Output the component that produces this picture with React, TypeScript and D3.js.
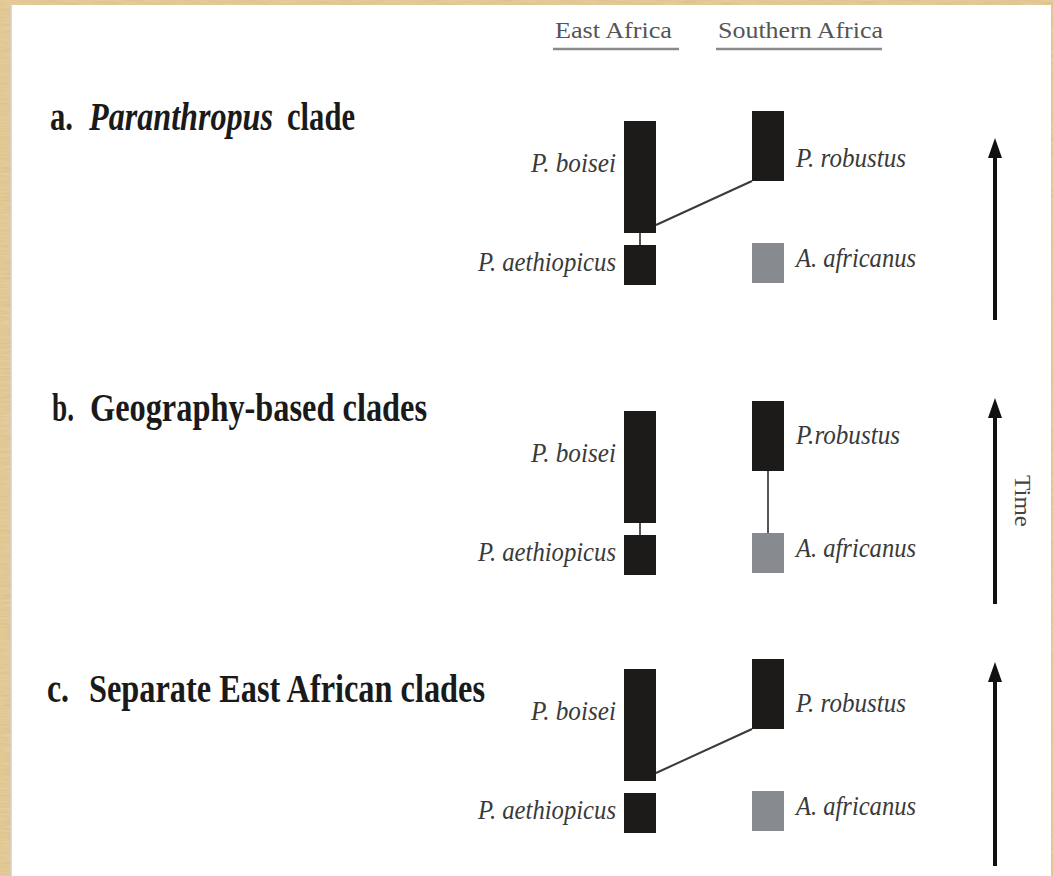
import React from 'react';
import * as d3 from 'd3';

// species and their time ranges (Ma)
const species = ['P. boisei', 'P. aethiopicus', 'P. robustus', 'A. africanus'];
const speciesRegion = ['East Africa', 'East Africa', 'Southern Africa', 'Southern Africa'];
const lastAppearance = [1.2, 2.44, 1.1, 2.42];
const firstAppearance = [2.32, 2.84, 1.8, 2.82];
const paranthropus = [true, true, true, false];
const regions = ['East Africa', 'Southern Africa'];

// branching point of P. robustus off P. boisei
const branchTime = 2.24;

const panelLetters = ['a.', 'b.', 'c.'];
const panelNames = ['Paranthropus', 'Geography-based clades', 'Separate East African clades'];
const panelLinks = [
  [['P. aethiopicus', 'P. boisei'], ['P. boisei', 'P. robustus']],
  [['P. aethiopicus', 'P. boisei'], ['A. africanus', 'P. robustus']],
  [['P. boisei', 'P. robustus']],
];
const robustusLabels = ['P. robustus', 'P.robustus', 'P. robustus'];

// layout
const W = 1053;
const H = 876;
const panelTop = [101, 391, 649];
const titleBaseline = [130, 421, 702];
const arrowTop = [138, 398, 662];
const arrowBottom = [320, 604, 866];
const labelDy = [-5, 6, 16, 4];
const robustusDy = [21, 8, 18];
const labelWidth = [85, 138, 110, 120];
const boxW = 32;
const serif = '"Liberation Serif", "Times New Roman", serif';

const x = d3.scaleOrdinal<string, number>().domain(regions).range([640, 768]);

// text drawn at its natural width, stretched vertically like the condensed print
const Tall = ({ x, y, sy, len, children, ...rest }: any) => (
  <text transform={`translate(${x},${y}) scale(1,${sy})`} textLength={len} lengthAdjust="spacingAndGlyphs" {...rest}>
    {children}
  </text>
);

const Title = ({ i }: { i: number }) => {
  const y = titleBaseline[i];
  const common = { fontFamily: serif, fontSize: 32, fontWeight: 'bold', fill: '#1a1a1a', sy: 1.25 };
  if (i === 0) {
    return (
      <g>
        <Tall x={50} y={y} len={23} {...common}>{panelLetters[0]}</Tall>
        <Tall x={89} y={y} len={184} fontStyle="italic" {...common}>{panelNames[0]}</Tall>
        <Tall x={287} y={y} len={68} {...common}>clade</Tall>
      </g>
    );
  }
  const starts = [0, 52, 47];
  const textStarts = [0, 90, 89];
  const ends = [0, 427, 485];
  return (
    <g>
      <Tall x={starts[i]} y={y} len={22} {...common}>{panelLetters[i]}</Tall>
      <Tall x={textStarts[i]} y={y} len={ends[i] - textStarts[i]} {...common}>{panelNames[i]}</Tall>
    </g>
  );
};

const Panel = ({ i }: { i: number }) => {
  const y = d3.scaleLinear().domain([1.0, 3.0]).range([panelTop[i], panelTop[i] + 200]);
  const idx = (s: string) => species.indexOf(s);

  return (
    <g>
      <Title i={i} />
      {panelLinks[i].map(([src, tgt], k) => {
        const a = idx(src);
        const b = idx(tgt);
        if (speciesRegion[a] === speciesRegion[b]) {
          const cx = x(speciesRegion[a]);
          return (
            <line key={k} x1={cx} x2={cx} y1={y(lastAppearance[a])} y2={y(firstAppearance[b])}
              stroke="#555" strokeWidth={2} />
          );
        }
        return (
          <line key={k}
            x1={x(speciesRegion[a]) + boxW / 2} y1={y(branchTime)}
            x2={x(speciesRegion[b]) - boxW / 2} y2={y(firstAppearance[b])}
            stroke="#3a3a3a" strokeWidth={2} />
        );
      })}
      {species.map((s, j) => {
        const cx = x(speciesRegion[j]);
        const top = y(lastAppearance[j]);
        const bottom = y(firstAppearance[j]);
        const east = speciesRegion[j] === 'East Africa';
        const dy = j === 2 ? robustusDy[i] : labelDy[j];
        const label = j === 2 ? robustusLabels[i] : s;
        return (
          <g key={s}>
            <rect x={cx - boxW / 2} y={top} width={boxW} height={bottom - top}
              fill={paranthropus[j] ? '#1d1a1a' : '#878b90'} />
            <Tall
              x={east ? cx - boxW / 2 - 8 : cx + boxW / 2 + 12}
              y={(top + bottom) / 2 + dy}
              sy={1.2}
              textAnchor={east ? 'end' : 'start'}
              fontFamily={serif} fontStyle="italic" fontSize={23.5} fill="#3a3a3a"
              len={j === 2 && i === 1 ? 104 : labelWidth[j]}
            >{label}</Tall>
          </g>
        );
      })}
      {/* time arrow */}
      <rect x={993} y={arrowTop[i] + 16} width={4} height={arrowBottom[i] - arrowTop[i] - 16} fill="#111" />
      <path d={`M995,${arrowTop[i]} L1002,${arrowTop[i] + 20} L988,${arrowTop[i] + 20} Z`} fill="#111" />
    </g>
  );
};

export default function App() {
  return (
    <svg width={W} height={H} style={{ position: 'absolute', left: 0, top: 0, display: 'block' }}>
      <defs>
        <filter id="grain" x="0" y="0" width="100%" height="100%">
          <feTurbulence type="fractalNoise" baseFrequency="0.05 0.6" numOctaves={2} seed={3} />
          <feColorMatrix type="matrix" values="0 0 0 0 1  0 0 0 0 0.95  0 0 0 0 0.8  0 0 0 0.6 0" />
        </filter>
      </defs>
      <rect width={W} height={H} fill="#dcbf86" />
      <rect width={W} height={H} filter="url(#grain)" opacity={0.5} />
      <rect x={11} y={5} width={W - 13} height={H - 5} fill="#fff" />
      <line x1={11} x2={11} y1={5} y2={H} stroke="#cfcfcf" strokeWidth={1.5} />

      {/* region headers */}
      <text x={555} y={38} fontFamily={serif} fontSize={24} fill="#555" textLength={117} lengthAdjust="spacingAndGlyphs">East Africa</text>
      <line x1={553} x2={679} y1={49} y2={49} stroke="#8a8a8a" strokeWidth={2.5} />
      <text x={718} y={38} fontFamily={serif} fontSize={24} fill="#555" textLength={165} lengthAdjust="spacingAndGlyphs">Southern Africa</text>
      <line x1={716} x2={882} y1={49} y2={49} stroke="#8a8a8a" strokeWidth={2.5} />

      {[0, 1, 2].map((i) => <Panel key={i} i={i} />)}

      <text transform="translate(1015,475) rotate(90)" fontFamily={serif} fontSize={23} fill="#444"
        textLength={52} lengthAdjust="spacingAndGlyphs">Time</text>
    </svg>
  );
}
